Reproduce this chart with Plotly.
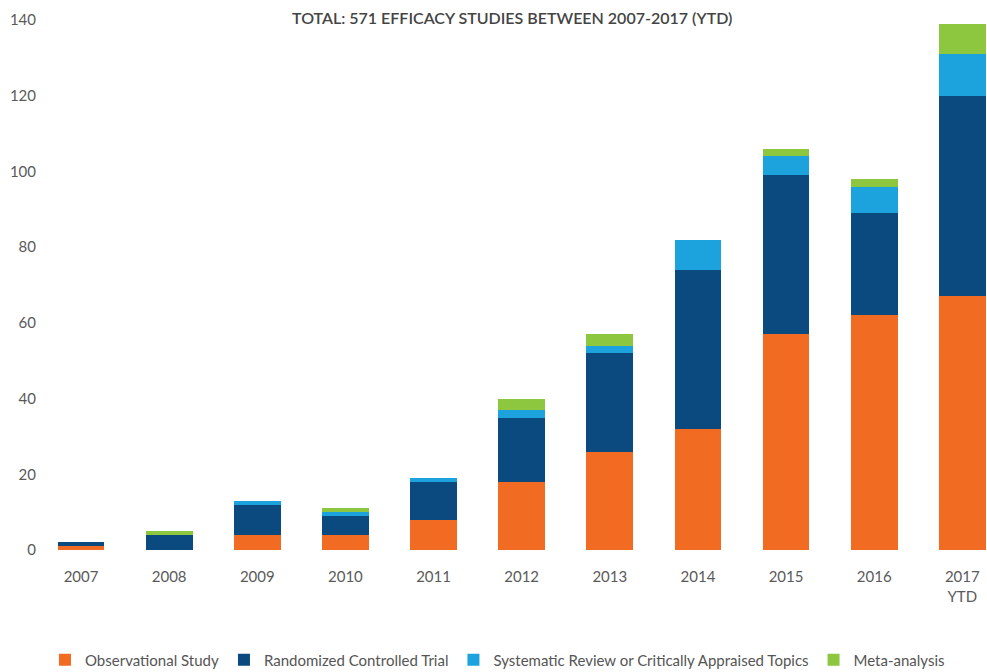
import plotly.graph_objects as go

years = ["2007", "2008", "2009", "2010", "2011", "2012", "2013", "2014", "2015", "2016", "2017<br>YTD"]
observational = [1, 0, 4, 4, 8, 18, 26, 32, 57, 62, 67]
randomized = [1, 4, 8, 5, 10, 17, 26, 42, 42, 27, 53]
systematic = [0, 0, 1, 1, 1, 2, 2, 8, 5, 7, 11]
meta = [0, 1, 0, 1, 0, 3, 3, 0, 2, 2, 8]

series = [
    ("Observational Study", observational, "#F26B22"),
    ("Randomized Controlled Trial", randomized, "#0B4A7E"),
    ("Systematic Review or Critically Appraised Topics", systematic, "#1CA3DE"),
    ("Meta-analysis", meta, "#8DC63F"),
]

fig = go.Figure()
for name, vals, color in series:
    fig.add_trace(go.Bar(
        x=list(range(len(years))), y=vals, name=name,
        marker=dict(color=color, line=dict(width=0)),
        width=0.53,
    ))

fig.update_layout(
    barmode="stack",
    width=987, height=672,
    margin=dict(l=45, r=0, t=20, b=122),
    paper_bgcolor="white", plot_bgcolor="white",
    font=dict(family="Lato, Open Sans, sans-serif", color="#5a5a5a", size=14),
    title=dict(
        text="TOTAL: 571 EFFICACY STUDIES BETWEEN 2007-2017 (YTD)",
        x=0.519, xanchor="center", y=1 - 18 / 672, yanchor="middle", yref="container",
        font=dict(family="Lato, Open Sans, sans-serif", size=16, color="#444444", weight=600),
    ),
    xaxis=dict(
        tickmode="array", tickvals=list(range(len(years))), ticktext=years,
        range=[-0.409, 10.28], showgrid=False, zeroline=False, showline=False,
        ticks="", ticklabelstandoff=16, tickfont=dict(size=15),
    ),
    yaxis=dict(
        range=[0, 140], tickvals=[0, 20, 40, 60, 80, 100, 120, 140],
        showgrid=False, zeroline=False, showline=False, ticks="",
        ticklabelstandoff=8, tickfont=dict(size=15),
    ),
    legend=dict(
        orientation="h", x=0.0, xanchor="left",
        y=1 - 660 / 672, yanchor="middle", yref="container",
        font=dict(size=15, color="#555555"), traceorder="normal",
        itemwidth=30,
    ),
    showlegend=True,
)

fig.write_html("out.html")
